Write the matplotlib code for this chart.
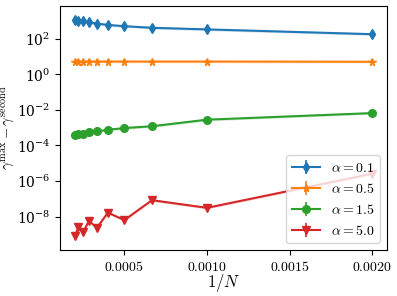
import numpy as np
import matplotlib
matplotlib.use("Agg")
import matplotlib.pyplot as plt
from matplotlib.ticker import FuncFormatter

plt.rcParams['mathtext.fontset'] = 'cm'
plt.rcParams['font.family'] = ['DejaVu Serif']
plt.rcParams['font.size'] = 10

N = [5000, 4500, 4000, 3500, 3000, 2500, 2000, 1500, 1000, 500]
inv_N = [1.0 / n for n in N]

labels = [r'$\alpha = 0.1$', r'$\alpha = 0.5$', r'$\alpha = 1.5$', r'$\alpha = 5.0$']
log_a01 = [3.08, 3.02, 2.99, 2.93, 2.86, 2.78, 2.71, 2.62, 2.53, 2.26]
log_a05 = [0.72, 0.72, 0.72, 0.72, 0.72, 0.72, 0.72, 0.72, 0.72, 0.71]
log_a15 = [-3.42, -3.38, -3.33, -3.27, -3.21, -3.12, -3.02, -2.92, -2.55, -2.18]
log_a50 = [-9.11, -8.60, -8.89, -8.24, -8.64, -7.78, -8.20, -7.08, -7.51, -5.59]

series = [log_a01, log_a05, log_a15, log_a50]
markers = ['d', '*', 'o', 'v']
colors = ['#1f77b4', '#ff7f0e', '#2ca02c', '#d62728']

fig = plt.figure(figsize=(3.97, 2.96), dpi=100)
ax = fig.add_axes([0.151, 0.155, 0.824, 0.825])

for lg, mk, c, lab in zip(series, markers, colors, labels):
    y = 10 ** np.array(lg)
    ax.fill_between(inv_N, y * 0.85, y * 1.18, color=c, alpha=0.2, lw=0)
    ax.errorbar(inv_N, y, yerr=[y * 0.3, y * 0.4], marker=mk, color=c,
                markersize=5.5, lw=1.5, elinewidth=1.2, capsize=0, label=lab)

ax.set_yscale('log')
ax.set_xticks([0.0005, 0.0010, 0.0015, 0.0020])
ax.xaxis.set_major_formatter(FuncFormatter(lambda v, p: r'$%.4f$' % v))
ax.tick_params(labelsize=10)
ax.set_xlabel(r'$1/N$', fontsize=12)
ax.set_ylabel(r'$\gamma^{\max} - \gamma^{\rm second}$', fontsize=10.5)
ax.xaxis.set_label_coords(0.5, -0.09)
ax.yaxis.set_label_coords(-0.13, 0.5)
ax.legend(loc='lower right', fontsize=10)

fig.savefig('out.png', dpi=100)
